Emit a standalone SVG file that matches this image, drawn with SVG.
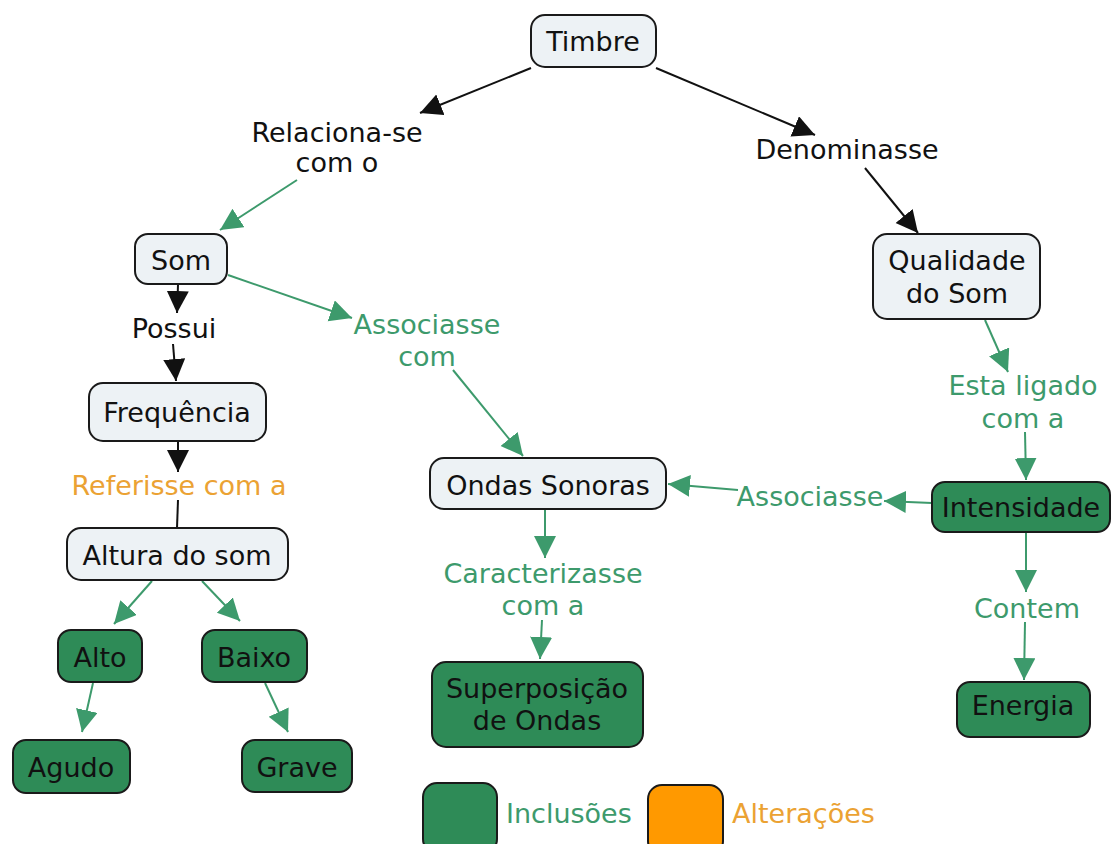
<svg xmlns="http://www.w3.org/2000/svg" width="1115" height="844" viewBox="0 0 1115 844">
<style>
text{font-family:"DejaVu Sans","Verdana",sans-serif;font-size:27px;text-anchor:middle}
.n rect{stroke:#1a1a1a;stroke-width:2}
.lt rect{fill:#edf2f5}
.gr rect{fill:#2e8b57}
.nt{fill:#111}
.gt{fill:#3d9a6c}
.ot{fill:#eba233}
.bk{stroke:#111;stroke-width:2;fill:none}
.gl{stroke:#3d9a6c;stroke-width:2;fill:none}
</style>
<defs>
<marker id="ab" markerUnits="userSpaceOnUse" markerWidth="24" markerHeight="24" refX="22" refY="11" orient="auto"><path d="M0,0 L22,11 L0,22 z" fill="#111"/></marker>
<marker id="ag" markerUnits="userSpaceOnUse" markerWidth="24" markerHeight="24" refX="22" refY="11" orient="auto"><path d="M0,0 L22,11 L0,22 z" fill="#3d9a6c"/></marker>
</defs>
<rect width="1115" height="844" fill="#fff"/>
<g id="connectors">
<line class="bk" x1="531" y1="68" x2="420" y2="113" marker-end="url(#ab)"/>
<line class="bk" x1="656" y1="68" x2="815" y2="135" marker-end="url(#ab)"/>
<line class="bk" x1="865" y1="168" x2="918" y2="233" marker-end="url(#ab)"/>
<line class="bk" x1="178" y1="285" x2="177" y2="313" marker-end="url(#ab)"/>
<line class="bk" x1="173" y1="344" x2="176" y2="381" marker-end="url(#ab)"/>
<line class="bk" x1="178" y1="442" x2="178" y2="472" marker-end="url(#ab)"/>
<line class="bk" x1="178" y1="500" x2="177" y2="528"/>
<line class="gl" x1="297" y1="180" x2="220" y2="230" marker-end="url(#ag)"/>
<line class="gl" x1="228" y1="275" x2="352" y2="318" marker-end="url(#ag)"/>
<line class="gl" x1="453" y1="370" x2="523" y2="456" marker-end="url(#ag)"/>
<line class="gl" x1="152" y1="581" x2="114" y2="624" marker-end="url(#ag)"/>
<line class="gl" x1="202" y1="581" x2="240" y2="621" marker-end="url(#ag)"/>
<line class="gl" x1="93" y1="683" x2="82" y2="732" marker-end="url(#ag)"/>
<line class="gl" x1="265" y1="683" x2="288" y2="732" marker-end="url(#ag)"/>
<line class="gl" x1="545" y1="510" x2="545" y2="558" marker-end="url(#ag)"/>
<line class="gl" x1="542" y1="620" x2="540" y2="659" marker-end="url(#ag)"/>
<line class="gl" x1="985" y1="320" x2="1008" y2="372" marker-end="url(#ag)"/>
<line class="gl" x1="1025" y1="432" x2="1026" y2="480" marker-end="url(#ag)"/>
<line class="gl" x1="932" y1="503" x2="884" y2="501" marker-end="url(#ag)"/>
<line class="gl" x1="738" y1="490" x2="668" y2="484" marker-end="url(#ag)"/>
<line class="gl" x1="1026" y1="533" x2="1026" y2="592" marker-end="url(#ag)"/>
<line class="gl" x1="1025" y1="622" x2="1024" y2="680" marker-end="url(#ag)"/>
</g>
<g id="lbl-relaciona"><text class="nt" x="337" y="142">Relaciona-se</text><text class="nt" x="337" y="172">com o</text></g>
<g id="lbl-denominasse"><text class="nt" x="847" y="159">Denominasse</text></g>
<g id="lbl-possui"><text class="nt" x="174" y="338">Possui</text></g>
<g id="lbl-referisse"><text class="ot" x="179" y="495">Referisse com a</text></g>
<g id="lbl-associasse-com"><text class="gt" x="427" y="334">Associasse</text><text class="gt" x="427" y="366">com</text></g>
<g id="lbl-caracterizasse"><text class="gt" x="543" y="583">Caracterizasse</text><text class="gt" x="543" y="615">com a</text></g>
<g id="lbl-esta"><text class="gt" x="1023" y="395">Esta ligado</text><text class="gt" x="1023" y="428">com a</text></g>
<g id="lbl-associasse"><text class="gt" x="810" y="506">Associasse</text></g>
<g id="lbl-contem"><text class="gt" x="1027" y="618">Contem</text></g>
<g id="n-timbre" class="n lt"><rect x="531" y="15" width="125" height="52" rx="14"/><text class="nt" x="593" y="51">Timbre</text></g>
<g id="n-som" class="n lt"><rect x="135" y="234" width="92" height="50" rx="13"/><text class="nt" x="181" y="270">Som</text></g>
<g id="n-frequencia" class="n lt"><rect x="89" y="383" width="177" height="58" rx="14"/><text class="nt" x="177" y="422">Frequência</text></g>
<g id="n-altura" class="n lt"><rect x="67" y="528" width="221" height="52" rx="14"/><text class="nt" x="177" y="565">Altura do som</text></g>
<g id="n-alto" class="n gr"><rect x="58" y="630" width="84" height="52" rx="13"/><text class="nt" x="100" y="667">Alto</text></g>
<g id="n-baixo" class="n gr"><rect x="202" y="630" width="105" height="52" rx="13"/><text class="nt" x="254" y="667">Baixo</text></g>
<g id="n-agudo" class="n gr"><rect x="13" y="740" width="117" height="53" rx="13"/><text class="nt" x="71" y="777">Agudo</text></g>
<g id="n-grave" class="n gr"><rect x="242" y="740" width="110" height="52" rx="13"/><text class="nt" x="297" y="777">Grave</text></g>
<g id="n-ondas" class="n lt"><rect x="430" y="458" width="236" height="51" rx="14"/><text class="nt" x="548" y="495">Ondas Sonoras</text></g>
<g id="n-superposicao" class="n gr"><rect x="432" y="662" width="211" height="85" rx="14"/><text class="nt" x="537" y="698">Superposição</text><text class="nt" x="537" y="730">de Ondas</text></g>
<g id="n-qualidade" class="n lt"><rect x="873" y="234" width="167" height="85" rx="14"/><text class="nt" x="957" y="270">Qualidade</text><text class="nt" x="957" y="303">do Som</text></g>
<g id="n-intensidade" class="n gr"><rect x="932" y="482" width="178" height="50" rx="13"/><text class="nt" x="1021" y="517">Intensidade</text></g>
<g id="n-energia" class="n gr"><rect x="957" y="682" width="133" height="55" rx="13"/><text class="nt" x="1023" y="715">Energia</text></g>
<g id="legend">
<g id="leg-inclusoes" class="n gr"><rect x="423" y="783" width="74" height="70" rx="14"/><text class="gt" x="506" y="823" style="text-anchor:start">Inclusões</text></g>
<g id="leg-alteracoes" class="n"><rect x="648" y="785" width="75" height="70" rx="14" fill="#ff9900"/><text class="ot" x="732" y="823" style="text-anchor:start">Alterações</text></g>
</g>
</svg>
